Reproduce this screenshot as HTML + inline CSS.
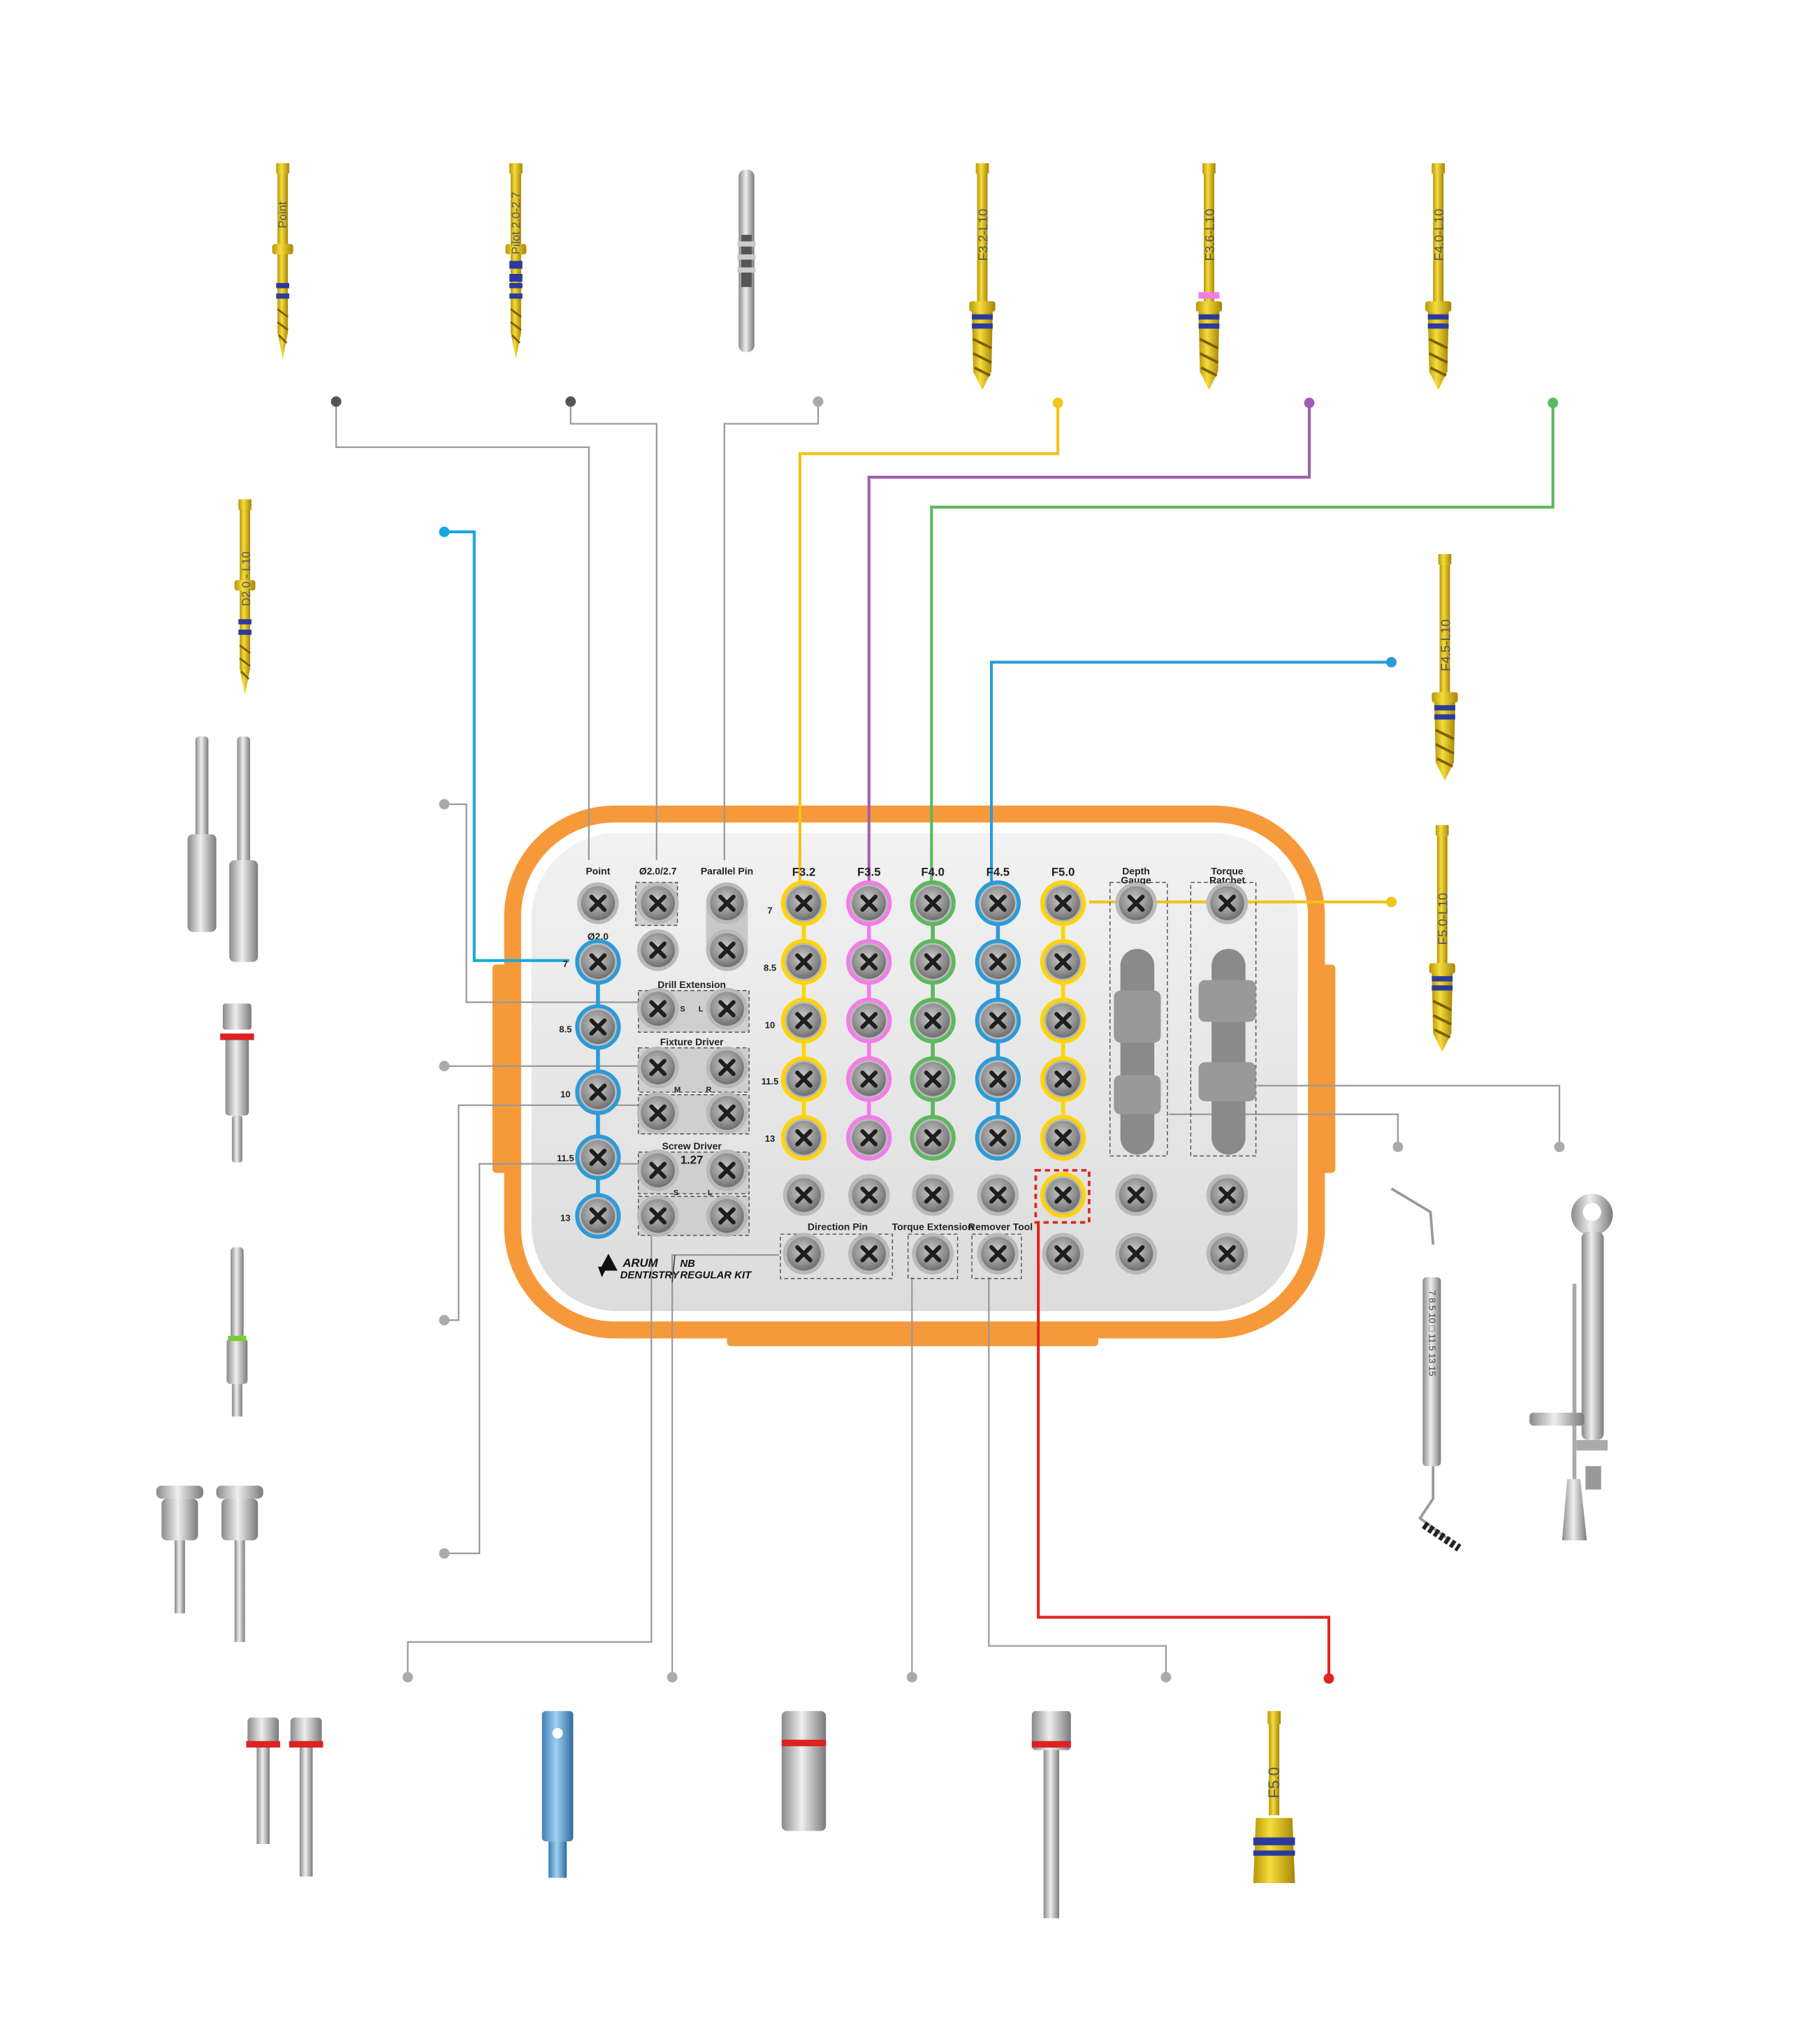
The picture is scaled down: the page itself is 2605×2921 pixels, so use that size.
<!DOCTYPE html>
<html><head><meta charset="utf-8"><style>
html,body{margin:0;padding:0;background:#fff}
svg{display:block}
text{font-family:"Liberation Sans",sans-serif}
</style></head><body>
<svg width="2605" height="2921" viewBox="0 0 1397 1566" xmlns="http://www.w3.org/2000/svg">
<defs>
<radialGradient id="hg" cx="45%" cy="40%" r="60%"><stop offset="0" stop-color="#c9c9c9"/><stop offset="0.7" stop-color="#8e8e8e"/><stop offset="1" stop-color="#6f6f6f"/></radialGradient>
<linearGradient id="gold" x1="0" x2="1"><stop offset="0" stop-color="#b8960a"/><stop offset="0.4" stop-color="#f5dc3a"/><stop offset="1" stop-color="#a88508"/></linearGradient>
<linearGradient id="silv" x1="0" x2="1"><stop offset="0" stop-color="#8a8a8a"/><stop offset="0.45" stop-color="#eeeeee"/><stop offset="1" stop-color="#7a7a7a"/></linearGradient>
<linearGradient id="blu" x1="0" x2="1"><stop offset="0" stop-color="#3d7fb8"/><stop offset="0.45" stop-color="#9fd0f0"/><stop offset="1" stop-color="#2f6a9e"/></linearGradient>
<linearGradient id="tray" x1="0" y1="0" x2="0" y2="1"><stop offset="0" stop-color="#f2f2f2"/><stop offset="1" stop-color="#dcdcdc"/></linearGradient>
<g id="hole"><circle r="16" fill="#b9b9b9"/><circle r="13" fill="url(#hg)"/><path d="M-5,-5L5,5M5,-5L-5,5" stroke="#1e1e1e" stroke-width="3.2" stroke-linecap="round"/></g>
<g id="drillF"><rect x="-5" y="0" width="10" height="8" fill="url(#gold)"/><rect x="-4" y="8" width="8" height="100" fill="url(#gold)"/><rect x="-10" y="106" width="20" height="8" rx="2" fill="url(#gold)"/><polygon points="-8,114 8,114 7,160 0,174 -7,160" fill="url(#gold)"/><rect x="-8" y="116" width="16" height="4" fill="#2b3b9c"/><rect x="-8" y="123" width="16" height="4" fill="#2b3b9c"/><path d="M-7,135L7,142M-7,146L7,153M-6,157L6,163" stroke="#7a5f00" stroke-width="2"/></g>
<g id="drillS"><rect x="-5" y="0" width="10" height="8" fill="url(#gold)"/><rect x="-4" y="8" width="8" height="55" fill="url(#gold)"/><rect x="-8" y="62" width="16" height="8" rx="2" fill="url(#gold)"/><polygon points="-4,70 4,70 4,130 0,150 -4,130" fill="url(#gold)"/><rect x="-5" y="92" width="10" height="4" fill="#2b3b9c"/><rect x="-5" y="100" width="10" height="4" fill="#2b3b9c"/><path d="M-4,112L4,118M-4,122L4,128M-3,132L3,138" stroke="#7a5f00" stroke-width="1.5"/></g>
</defs>
<rect width="1397" height="1566" fill="#fff"/>

<!-- tray -->
<rect x="378" y="740" width="14" height="160" rx="3" fill="#f39a3a"/>
<rect x="1011" y="740" width="14" height="160" rx="3" fill="#f39a3a"/>
<rect x="558" y="1015" width="285" height="18" rx="3" fill="#f39a3a"/>
<rect x="387" y="618" width="630" height="409" rx="85" fill="#f6993a"/>
<rect x="400" y="631" width="604" height="383" rx="72" fill="#fff"/>
<rect x="408" y="639" width="588" height="367" rx="66" fill="url(#tray)"/>

<!-- connectors -->
<g fill="none" stroke-width="1.2">
<polyline points="258,308 258,343 452,343 452,660" stroke="#999"/>
<polyline points="438,308 438,325 504,325 504,660" stroke="#999"/>
<polyline points="628,308 628,325 556,325 556,660" stroke="#999"/>
<polyline points="341,617 358,617 358,769 490,769" stroke="#999"/>
<polyline points="341,818 490,818" stroke="#999"/>
<polyline points="341,1013 352,1013 352,848 490,848" stroke="#999"/>
<polyline points="341,1192 368,1192 368,893 490,893" stroke="#999"/>
<polyline points="313,1287 313,1260 500,1260 500,940" stroke="#999"/>
<polyline points="516,1287 516,963 598,963" stroke="#999"/>
<polyline points="700,1287 700,980" stroke="#999"/>
<polyline points="895,1287 895,1263 759,1263 759,980" stroke="#999"/>
<polyline points="1073,880 1073,855 897,855" stroke="#999"/>
<polyline points="1197,880 1197,833 965,833" stroke="#999"/>
</g>

<!-- colored connectors -->
<g fill="none" stroke-width="2.2">
<polyline points="812,309 812,348 614,348 614,680" stroke="#f0c419"/>
<polyline points="1005,309 1005,366 667,366 667,680" stroke="#a05fb0"/>
<polyline points="1192,309 1192,389 715,389 715,680" stroke="#5cb85c"/>
<polyline points="1068,508 761,508 761,680" stroke="#2b9bd8"/>
<polyline points="341,408 364,408 364,737 437,737" stroke="#18a7e0"/>
<polyline points="836,692 1068,692" stroke="#f0c419"/>
<polyline points="1020,1288 1020,1241 797,1241 797,937" stroke="#e0261f"/>
</g>
<circle cx="258" cy="308" r="4" fill="#555"/><circle cx="438" cy="308" r="4" fill="#555"/><circle cx="628" cy="308" r="4" fill="#aaa"/>
<circle cx="812" cy="309" r="4" fill="#f0c419"/><circle cx="1005" cy="309" r="4" fill="#a05fb0"/><circle cx="1192" cy="309" r="4" fill="#5cb85c"/>
<circle cx="1068" cy="508" r="4" fill="#2b9bd8"/><circle cx="1068" cy="692" r="4" fill="#f0c419"/><circle cx="341" cy="408" r="4" fill="#18a7e0"/>
<g fill="#aaa"><circle cx="341" cy="617" r="4"/><circle cx="341" cy="818" r="4"/><circle cx="341" cy="1013" r="4"/><circle cx="341" cy="1192" r="4"/><circle cx="313" cy="1287" r="4"/><circle cx="516" cy="1287" r="4"/><circle cx="700" cy="1287" r="4"/><circle cx="895" cy="1287" r="4"/><circle cx="1073" cy="880" r="4"/><circle cx="1197" cy="880" r="4"/></g>
<circle cx="1020" cy="1288" r="4" fill="#e0261f"/>

<!-- tray labels -->
<g font-size="7.5" font-weight="bold" fill="#222" text-anchor="middle">
<text x="459" y="671">Point</text><text x="505" y="671">Ø2.0/2.7</text><text x="558" y="671">Parallel Pin</text>
<text x="459" y="721">Ø2.0</text>
<text x="872" y="671">Depth</text><text x="872" y="678">Gauge</text><text x="942" y="671">Torque</text><text x="942" y="678">Ratchet</text>
<text x="531" y="758">Drill Extension</text><text x="531" y="802">Fixture Driver</text><text x="531" y="882">Screw Driver</text>
<text x="643" y="944">Direction Pin</text><text x="716" y="944">Torque Extension</text><text x="768" y="944">Remover Tool</text>
</g>
<g font-size="9" font-weight="bold" fill="#222" text-anchor="middle">
<text x="617" y="672">F3.2</text><text x="667" y="672">F3.5</text><text x="716" y="672">F4.0</text><text x="766" y="672">F4.5</text><text x="816" y="672">F5.0</text>
</g>
<g font-size="7" font-weight="bold" fill="#222" text-anchor="middle">
<text x="591" y="701">7</text><text x="591" y="745">8.5</text><text x="591" y="789">10</text><text x="591" y="832">11.5</text><text x="591" y="876">13</text>
<text x="434" y="742">7</text><text x="434" y="792">8.5</text><text x="434" y="842">10</text><text x="434" y="891">11.5</text><text x="434" y="937">13</text>
</g>

<rect x="542" y="679" width="32" height="66" rx="16" fill="#c8c8c8"/>
<g fill="#cfcfcf" stroke="#555" stroke-dasharray="3,2" stroke-width="0.8">
<rect x="488" y="677" width="32" height="33"/>
<rect x="490" y="760" width="85" height="32"/>
<rect x="490" y="804" width="85" height="34"/>
<rect x="490" y="840" width="85" height="30"/>
<rect x="490" y="884" width="85" height="32"/>
<rect x="490" y="918" width="85" height="30"/>
<rect x="599" y="947" width="86" height="34" fill="none"/>
<rect x="697" y="947" width="38" height="34" fill="none"/>
<rect x="746" y="947" width="38" height="34" fill="none"/>
<rect x="852" y="677" width="44" height="210" fill="none"/>
<rect x="914" y="677" width="50" height="210" fill="none"/>
</g>
<g font-size="6" font-weight="bold" fill="#222" text-anchor="middle">
<text x="524" y="776">S</text><text x="538" y="776">L</text><text x="520" y="838">M</text><text x="544" y="838">R</text><text x="519" y="917">S</text><text x="545" y="917">L</text>
</g>
<text x="531" y="893" font-size="9" font-weight="bold" fill="#222" text-anchor="middle">1.27</text>
<rect x="860" y="728" width="26" height="158" rx="13" fill="#8a8a8a"/>
<rect x="855" y="760" width="36" height="40" rx="5" fill="#999"/><rect x="855" y="825" width="36" height="30" rx="5" fill="#999"/>
<rect x="930" y="728" width="26" height="158" rx="13" fill="#8a8a8a"/>
<rect x="920" y="752" width="44" height="32" rx="5" fill="#999"/><rect x="920" y="815" width="44" height="30" rx="5" fill="#999"/>

<line x1="459" y1="738" x2="459" y2="933" stroke="#2b9bd8" stroke-width="3"/>
<g fill="none" stroke-width="3">
<line x1="617" y1="693" x2="617" y2="873" stroke="#ffd400"/>
<line x1="667" y1="693" x2="667" y2="873" stroke="#f47be8"/>
<line x1="716" y1="693" x2="716" y2="873" stroke="#5cb85c"/>
<line x1="766" y1="693" x2="766" y2="873" stroke="#2b9bd8"/>
<line x1="816" y1="693" x2="816" y2="873" stroke="#ffd400"/>
</g>

<g>
<use href="#hole" x="459" y="693"/><use href="#hole" x="505" y="693"/><use href="#hole" x="505" y="729"/><use href="#hole" x="558" y="693"/><use href="#hole" x="558" y="729"/>
<use href="#hole" x="505" y="774"/><use href="#hole" x="558" y="774"/><use href="#hole" x="505" y="819"/><use href="#hole" x="558" y="819"/><use href="#hole" x="505" y="854"/><use href="#hole" x="558" y="854"/>
<use href="#hole" x="505" y="898"/><use href="#hole" x="558" y="898"/><use href="#hole" x="505" y="933"/><use href="#hole" x="558" y="933"/>
<use href="#hole" x="872" y="693"/><use href="#hole" x="942" y="693"/>
<use href="#hole" x="617" y="917"/><use href="#hole" x="667" y="917"/><use href="#hole" x="716" y="917"/><use href="#hole" x="766" y="917"/><use href="#hole" x="816" y="917"/><use href="#hole" x="872" y="917"/><use href="#hole" x="942" y="917"/>
<use href="#hole" x="617" y="962"/><use href="#hole" x="667" y="962"/><use href="#hole" x="716" y="962"/><use href="#hole" x="766" y="962"/><use href="#hole" x="816" y="962"/><use href="#hole" x="872" y="962"/><use href="#hole" x="942" y="962"/>
<use href="#hole" x="459" y="738"/><use href="#hole" x="459" y="788"/><use href="#hole" x="459" y="838"/><use href="#hole" x="459" y="888"/><use href="#hole" x="459" y="933"/>
</g>
<g fill="none" stroke-width="3" stroke="#2b9bd8"><circle cx="459" cy="738" r="16"/><circle cx="459" cy="788" r="16"/><circle cx="459" cy="838" r="16"/><circle cx="459" cy="888" r="16"/><circle cx="459" cy="933" r="16"/></g>
<g><use href="#hole" x="617" y="693"/><use href="#hole" x="617" y="738"/><use href="#hole" x="617" y="783"/><use href="#hole" x="617" y="828"/><use href="#hole" x="617" y="873"/>
<use href="#hole" x="667" y="693"/><use href="#hole" x="667" y="738"/><use href="#hole" x="667" y="783"/><use href="#hole" x="667" y="828"/><use href="#hole" x="667" y="873"/>
<use href="#hole" x="716" y="693"/><use href="#hole" x="716" y="738"/><use href="#hole" x="716" y="783"/><use href="#hole" x="716" y="828"/><use href="#hole" x="716" y="873"/>
<use href="#hole" x="766" y="693"/><use href="#hole" x="766" y="738"/><use href="#hole" x="766" y="783"/><use href="#hole" x="766" y="828"/><use href="#hole" x="766" y="873"/>
<use href="#hole" x="816" y="693"/><use href="#hole" x="816" y="738"/><use href="#hole" x="816" y="783"/><use href="#hole" x="816" y="828"/><use href="#hole" x="816" y="873"/></g>
<g fill="none" stroke-width="3">
<g stroke="#ffd400"><circle cx="617" cy="693" r="16"/><circle cx="617" cy="738" r="16"/><circle cx="617" cy="783" r="16"/><circle cx="617" cy="828" r="16"/><circle cx="617" cy="873" r="16"/></g>
<g stroke="#f47be8"><circle cx="667" cy="693" r="16"/><circle cx="667" cy="738" r="16"/><circle cx="667" cy="783" r="16"/><circle cx="667" cy="828" r="16"/><circle cx="667" cy="873" r="16"/></g>
<g stroke="#5cb85c"><circle cx="716" cy="693" r="16"/><circle cx="716" cy="738" r="16"/><circle cx="716" cy="783" r="16"/><circle cx="716" cy="828" r="16"/><circle cx="716" cy="873" r="16"/></g>
<g stroke="#2b9bd8"><circle cx="766" cy="693" r="16"/><circle cx="766" cy="738" r="16"/><circle cx="766" cy="783" r="16"/><circle cx="766" cy="828" r="16"/><circle cx="766" cy="873" r="16"/></g>
<g stroke="#ffd400"><circle cx="816" cy="693" r="16"/><circle cx="816" cy="738" r="16"/><circle cx="816" cy="783" r="16"/><circle cx="816" cy="828" r="16"/><circle cx="816" cy="873" r="16"/><circle cx="816" cy="917" r="16"/></g>
</g>
<rect x="795" y="898" width="41" height="40" fill="none" stroke="#e0261f" stroke-width="2" stroke-dasharray="4,3"/>

<polygon points="467,962 474,975 460,975" fill="#111"/><polygon points="459,972 466,972 462,980" fill="#111"/>
<text x="478" y="972" font-size="9" font-weight="bold" font-style="italic" fill="#111">ARUM</text>
<text x="476" y="981" font-size="8" font-weight="bold" font-style="italic" fill="#111">DENTISTRY</text>
<line x1="518" y1="963" x2="516" y2="984" stroke="#333" stroke-width="0.8"/>
<text x="522" y="972" font-size="8" font-weight="bold" font-style="italic" fill="#111">NB</text>
<text x="522" y="981" font-size="8" font-weight="bold" font-style="italic" fill="#111">REGULAR  KIT</text>

<!-- drills -->
<use href="#drillS" x="217" y="125"/><text transform="translate(220,175) rotate(-90)" font-size="9" fill="#555">Point</text>
<use href="#drillS" x="396" y="125"/><rect x="391" y="200" width="10" height="6" fill="#2b3b9c"/><rect x="391" y="210" width="10" height="6" fill="#2b3b9c"/><text transform="translate(399,195) rotate(-90)" font-size="9" fill="#555">Pilot 2.0-2.7</text>
<g><rect x="567" y="130" width="12" height="140" rx="5" fill="url(#silv)"/><rect x="569" y="180" width="8" height="40" fill="#555"/><rect x="566" y="185" width="14" height="4" fill="#ccc"/><rect x="566" y="195" width="14" height="4" fill="#ccc"/><rect x="566" y="205" width="14" height="4" fill="#ccc"/></g>
<use href="#drillF" x="754" y="125"/><text transform="translate(758,200) rotate(-90)" font-size="10" fill="#555">F3.2-L10</text>
<use href="#drillF" x="928" y="125"/><rect x="920" y="224" width="16" height="5" fill="#f47be8"/><text transform="translate(932,200) rotate(-90)" font-size="10" fill="#555">F3.6-L10</text>
<use href="#drillF" x="1104" y="125"/><text transform="translate(1108,200) rotate(-90)" font-size="10" fill="#555">F4.0-L10</text>
<use href="#drillS" x="188" y="383"/><text transform="translate(192,465) rotate(-90)" font-size="9" fill="#555">D2.0 - L10</text>
<use href="#drillF" x="1109" y="425"/><text transform="translate(1113,515) rotate(-90)" font-size="10" fill="#555">F4.5-L10</text>
<use href="#drillF" x="1107" y="633"/><text transform="translate(1111,725) rotate(-90)" font-size="10" fill="#555">F5.0-L10</text>
<g><rect x="973" y="1313" width="10" height="10" fill="url(#gold)"/><rect x="974" y="1323" width="8" height="70" fill="url(#gold)"/><polygon points="964,1395 992,1395 994,1445 962,1445" fill="url(#gold)"/><rect x="962" y="1410" width="32" height="6" fill="#2b3b9c"/><rect x="962" y="1420" width="32" height="4" fill="#2b3b9c"/><text transform="translate(982,1380) rotate(-90)" font-size="12" fill="#555">F5.0</text></g>

<g fill="url(#silv)">
<rect x="150" y="565" width="10" height="80" rx="3"/><rect x="144" y="640" width="22" height="75" rx="4"/>
<rect x="182" y="565" width="10" height="100" rx="3"/><rect x="176" y="660" width="22" height="78" rx="4"/>
<rect x="171" y="770" width="22" height="20" rx="2"/><rect x="173" y="796" width="18" height="60" rx="3"/><rect x="178" y="856" width="8" height="36" rx="2"/>
<rect x="177" y="957" width="10" height="70" rx="3"/><rect x="174" y="1027" width="16" height="35" rx="3"/><rect x="178" y="1062" width="8" height="25"/>
<rect x="120" y="1140" width="36" height="10" rx="4"/><rect x="124" y="1150" width="28" height="32" rx="4"/><rect x="134" y="1182" width="8" height="56"/>
<rect x="166" y="1140" width="36" height="10" rx="4"/><rect x="170" y="1150" width="28" height="32" rx="4"/><rect x="180" y="1182" width="8" height="78"/>
<rect x="190" y="1318" width="24" height="22" rx="3"/><rect x="197" y="1340" width="10" height="75"/>
<rect x="223" y="1318" width="24" height="22" rx="3"/><rect x="230" y="1340" width="10" height="100"/>
<rect x="600" y="1313" width="34" height="92" rx="4"/>
<rect x="792" y="1313" width="30" height="30" rx="3"/><rect x="801" y="1343" width="12" height="129"/>
</g>
<rect x="169" y="793" width="26" height="5" fill="#d22"/><rect x="175" y="1025" width="14" height="4" fill="#7c3"/>
<rect x="189" y="1336" width="26" height="5" fill="#d22"/><rect x="222" y="1336" width="26" height="5" fill="#d22"/><rect x="600" y="1335" width="34" height="5" fill="#d22"/><rect x="792" y="1336" width="30" height="5" fill="#d22"/>
<rect x="416" y="1313" width="24" height="100" rx="3" fill="url(#blu)"/><rect x="421" y="1413" width="14" height="28" fill="url(#blu)"/><circle cx="428" cy="1330" r="4" fill="#fff"/>

<polyline points="1068,912 1098,930 1100,955" fill="none" stroke="#999" stroke-width="2"/>
<rect x="1092" y="980" width="14" height="145" rx="3" fill="url(#silv)"/>
<text transform="translate(1097,990) rotate(90)" font-size="7" fill="#444">7 8.5 10 □ 11.5 13 15</text>
<polyline points="1100,1125 1100,1150 1090,1165 1110,1180" fill="none" stroke="#999" stroke-width="2"/>
<path d="M1093,1170 L1120,1188" stroke="#222" stroke-width="6" stroke-dasharray="3,2"/>
<circle cx="1222" cy="932" r="16" fill="url(#silv)"/><circle cx="1222" cy="930" r="7" fill="#fff"/>
<rect x="1214" y="945" width="17" height="160" rx="5" fill="url(#silv)"/>
<rect x="1207" y="985" width="3" height="150" fill="#aaa"/>
<rect x="1174" y="1084" width="42" height="10" rx="3" fill="url(#silv)"/>
<rect x="1210" y="1105" width="24" height="8" fill="#aaa"/>
<polygon points="1203,1135 1213,1135 1218,1182 1199,1182" fill="url(#silv)"/>
<rect x="1217" y="1125" width="12" height="18" fill="#999"/>
</svg>
</body></html>
